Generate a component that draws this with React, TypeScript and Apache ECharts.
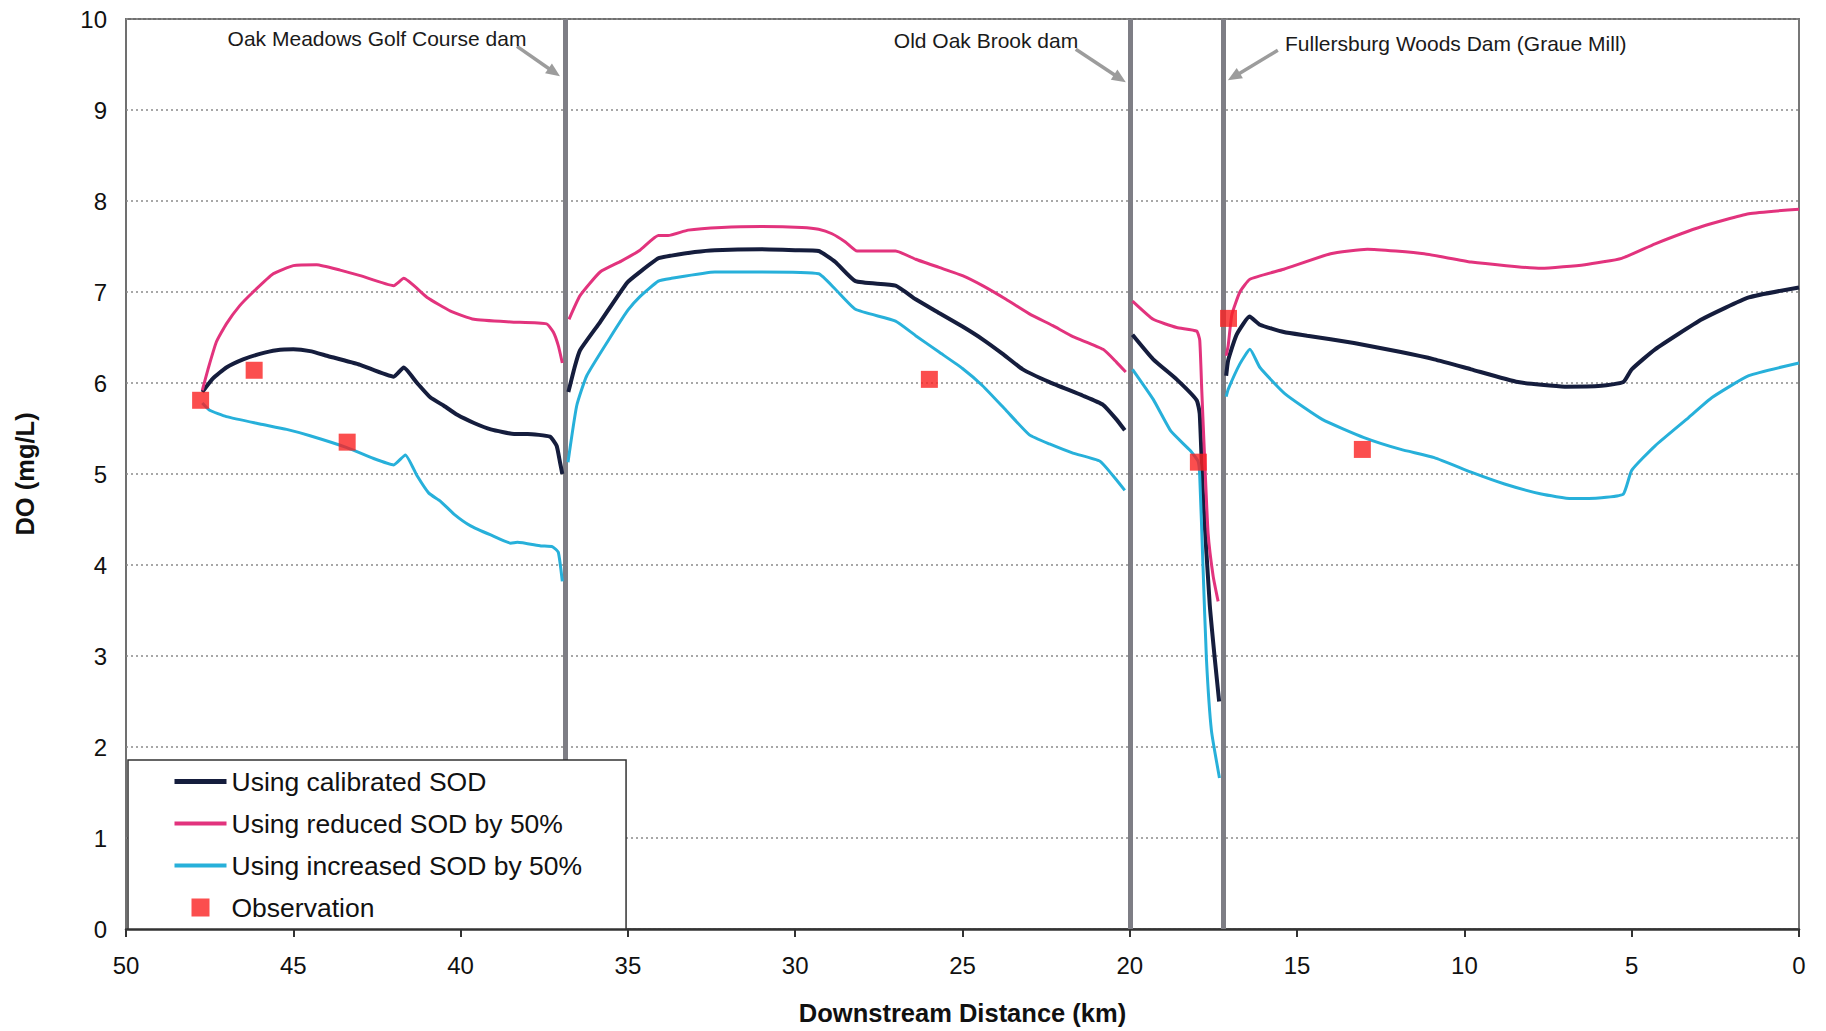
import React, { useEffect, useRef } from "react";
import * as echarts from "echarts";

// ---------- data (km downstream distance, DO mg/L) ----------
const calibratedSeg1 = [[47.72,5.9],[47.4,6.05],[47.0,6.17],[46.5,6.26],[46.0,6.32],[45.5,6.36],[45.0,6.37],[44.5,6.35],[44.0,6.3],[43.0,6.2],[42.0,6.07],[41.7,6.17],[41.3,6.0],[40.9,5.84],[40.5,5.75],[40.1,5.65],[39.6,5.56],[39.1,5.49],[38.4,5.44],[38.0,5.44],[37.33,5.41],[37.13,5.31],[37.03,5.13],[36.96,5.0]];
const calibratedSeg2 = [[36.78,5.9],[36.58,6.19],[36.43,6.36],[35.83,6.67],[35.03,7.1],[34.64,7.22],[34.09,7.37],[33.7,7.4],[33.0,7.44],[32.4,7.46],[31.0,7.47],[30.0,7.46],[29.3,7.45],[28.8,7.33],[28.2,7.12],[27.0,7.07],[26.4,6.92],[25.7,6.77],[25.0,6.62],[24.4,6.48],[23.8,6.32],[23.2,6.15],[22.4,6.01],[21.4,5.86],[20.8,5.76],[20.4,5.6],[20.15,5.48]];
const calibratedSeg3 = [[19.92,6.53],[19.3,6.26],[18.6,6.04],[18.0,5.81],[17.91,5.66],[17.81,4.75],[17.61,3.56],[17.46,2.97],[17.33,2.5]];
const calibratedSeg4 = [[17.12,6.08],[17.06,6.25],[16.81,6.53],[16.42,6.73],[16.11,6.64],[15.4,6.56],[14.7,6.52],[13.3,6.44],[11.9,6.34],[10.9,6.26],[9.8,6.15],[8.4,6.01],[7.0,5.96],[5.9,5.97],[5.25,6.01],[5.0,6.15],[4.3,6.37],[2.9,6.7],[1.5,6.94],[0,7.05]];

const reducedSeg1 = [[47.72,5.92],[47.55,6.15],[47.3,6.45],[47.0,6.65],[46.6,6.85],[46.2,7.0],[45.6,7.2],[45.0,7.29],[44.3,7.3],[43.6,7.24],[43.0,7.18],[42.0,7.07],[41.7,7.15],[41.0,6.94],[40.3,6.79],[39.6,6.7],[38.5,6.67],[37.43,6.65],[37.23,6.56],[37.08,6.41],[36.96,6.22]];
const reducedSeg2 = [[36.76,6.7],[36.43,6.96],[35.83,7.22],[35.2,7.34],[34.64,7.46],[34.09,7.62],[33.8,7.62],[33.2,7.68],[32.2,7.71],[31.0,7.72],[29.8,7.71],[29.3,7.69],[28.9,7.64],[28.5,7.55],[28.15,7.45],[27.0,7.45],[26.4,7.36],[25.7,7.27],[25.0,7.18],[24.4,7.07],[23.7,6.92],[23.0,6.76],[22.3,6.63],[21.7,6.51],[20.8,6.37],[20.4,6.23],[20.12,6.12]];
const reducedSeg3 = [[19.92,6.9],[19.3,6.7],[18.6,6.61],[18.0,6.57],[17.91,6.47],[17.85,5.93],[17.76,5.14],[17.66,4.35],[17.51,3.88],[17.36,3.6]];
const reducedSeg4 = [[17.12,6.3],[17.06,6.41],[16.95,6.75],[16.71,7.0],[16.41,7.14],[15.4,7.25],[14.0,7.42],[12.9,7.47],[11.2,7.42],[9.8,7.33],[7.7,7.26],[6.4,7.3],[5.3,7.37],[4.3,7.53],[2.9,7.72],[1.5,7.86],[0,7.91]];

const increasedSeg1 = [[47.72,5.78],[47.5,5.7],[47.0,5.63],[46.0,5.55],[45.2,5.49],[44.5,5.42],[43.4,5.29],[42.6,5.17],[42.0,5.1],[41.65,5.21],[41.3,4.98],[40.95,4.79],[40.6,4.7],[40.2,4.56],[39.7,4.43],[39.1,4.33],[38.5,4.24],[38.3,4.25],[37.6,4.21],[37.25,4.2],[37.08,4.14],[36.96,3.82]];
const increasedSeg2 = [[36.79,5.13],[36.53,5.75],[36.23,6.08],[35.53,6.5],[35.0,6.8],[34.64,6.95],[34.09,7.12],[33.7,7.15],[32.4,7.22],[31.0,7.22],[29.3,7.2],[28.8,7.03],[28.2,6.81],[27.0,6.68],[26.4,6.52],[25.7,6.34],[25.0,6.16],[24.4,5.97],[23.7,5.7],[23.0,5.43],[22.4,5.33],[21.7,5.23],[20.89,5.14],[20.5,4.98],[20.15,4.82]];
const increasedSeg3 = [[19.92,6.15],[19.3,5.82],[18.77,5.47],[18.2,5.26],[17.96,5.14],[17.91,4.98],[17.81,3.96],[17.71,2.97],[17.56,2.18],[17.32,1.66]];
const increasedSeg4 = [[17.12,5.85],[17.06,5.93],[16.71,6.21],[16.41,6.37],[16.11,6.17],[15.36,5.88],[14.25,5.6],[13.0,5.4],[11.9,5.27],[10.9,5.18],[9.8,5.02],[8.8,4.89],[7.7,4.78],[6.8,4.73],[5.9,4.74],[5.25,4.78],[5.0,5.04],[4.3,5.31],[3.3,5.62],[2.6,5.84],[1.5,6.08],[0,6.22]];

const observations = [[47.77,5.81],[46.17,6.14],[43.39,5.35],[25.99,6.04],[17.95,5.13],[17.05,6.71],[13.05,5.27]];

const damKm = [36.88, 20.0, 17.22];
const damNames = ["Oak Meadows Golf Course dam", "Old Oak Brook dam", "Fullersburg Woods Dam (Graue Mill)"];

const xTicks = [0, 5, 10, 15, 20, 25, 30, 35, 40, 45, 50];
const yTicks = [0, 1, 2, 3, 4, 5, 6, 7, 8, 9, 10];

const NAVY = "#151d3d";
const PINK = "#e2337d";
const CYAN = "#27b0da";
const RED = "#fa2222";
const FONT = "'Liberation Sans', Arial, sans-serif";

const scenarios = [
  { name: "Using calibrated SOD", segs: [calibratedSeg1, calibratedSeg2, calibratedSeg3, calibratedSeg4], color: NAVY, width: 4 },
  { name: "Using reduced SOD by 50%", segs: [reducedSeg1, reducedSeg2, reducedSeg3, reducedSeg4], color: PINK, width: 3 },
  { name: "Using increased SOD by 50%", segs: [increasedSeg1, increasedSeg2, increasedSeg3, increasedSeg4], color: CYAN, width: 3 },
];

export default function App() {
  const ref = useRef<HTMLDivElement>(null);

  useEffect(() => {
    if (!ref.current) return;
    const chart = echarts.init(ref.current, null, { renderer: "svg" });

    const lineSeries: any[] = [];
    scenarios.forEach((s, si) => {
      s.segs.forEach((seg, i) => {
        const ser: any = {
          type: "line",
          name: s.name,
          data: seg,
          symbol: "none",
          showSymbol: false,
          smooth: 0.15,
          lineStyle: { color: s.color, width: s.width },
          itemStyle: { color: s.color },
          z: 3,
          silent: true,
        };
        if (si === 0 && i === 0) {
          ser.markLine = {
            silent: true,
            symbol: ["none", "none"],
            label: { show: false },
            lineStyle: { color: "#7e7e85", width: 5, type: "solid" },
            data: damKm.map((k) => ({ xAxis: k })),
            z: 2,
          };
        }
        lineSeries.push(ser);
      });
    });

    const hiddenDot = { color: "rgba(0,0,0,0)", borderWidth: 0, borderColor: "rgba(0,0,0,0)" };

    const option: any = {
      animation: false,
      backgroundColor: "#ffffff",
      grid: {
        left: 126,
        right: 27,
        top: 19,
        bottom: 102,
        show: true,
        borderColor: "#707070",
        borderWidth: 2,
        backgroundColor: "transparent",
      },
      xAxis: {
        type: "value",
        min: xTicks[0],
        max: xTicks[xTicks.length - 1],
        interval: 5,
        inverse: true,
        name: "Downstream Distance (km)",
        nameLocation: "middle",
        nameGap: 71,
        nameTextStyle: { fontFamily: FONT, fontSize: 25.5, fontWeight: "bold", color: "#111" },
        axisLine: { show: true, lineStyle: { color: "#333", width: 2.5 } },
        axisTick: { show: true, length: 8, lineStyle: { color: "#333", width: 2 } },
        axisLabel: { fontFamily: FONT, fontSize: 24, color: "#111", margin: 24 },
        splitLine: { show: false },
      },
      yAxis: {
        type: "value",
        min: yTicks[0],
        max: yTicks[yTicks.length - 1],
        interval: 1,
        name: "DO (mg/L)",
        nameLocation: "middle",
        nameGap: 88,
        nameRotate: 90,
        nameTextStyle: { fontFamily: FONT, fontSize: 25.5, fontWeight: "bold", color: "#111" },
        axisLine: { show: true, lineStyle: { color: "#777", width: 2 } },
        axisTick: { show: false },
        axisLabel: { fontFamily: FONT, fontSize: 24, color: "#111", margin: 19 },
        splitLine: { show: true, lineStyle: { color: "#8a8a8a", width: 1.5, type: [2, 3] } },
      },
      legend: {
        show: true,
        orient: "vertical",
        left: 128,
        top: 760,
        padding: [8, 44, 8, 44],
        itemWidth: 52,
        itemHeight: 18,
        itemGap: 15,
        selectedMode: false,
        backgroundColor: "#ffffff",
        borderColor: "#333",
        borderWidth: 1.5,
        borderRadius: 0,
        textStyle: { fontFamily: FONT, fontSize: 26.5, lineHeight: 27, color: "#111" },
        data: [
          { name: scenarios[0].name, itemStyle: hiddenDot, lineStyle: { width: 5 } },
          { name: scenarios[1].name, itemStyle: hiddenDot, lineStyle: { width: 4 } },
          { name: scenarios[2].name, itemStyle: hiddenDot, lineStyle: { width: 4 } },
          { name: "Observation", icon: "path://M0 0H10V10H0Z" },
        ],
      },
      series: [
        ...lineSeries,
        {
          type: "scatter",
          name: "Observation",
          data: observations,
          symbol: "rect",
          symbolSize: 17,
          itemStyle: { color: RED },
          z: 5,
          silent: true,
        },
      ],
    };

    chart.setOption(option);

    // annotations with arrows pointing to the dams
    const tipY = 9.37;
    const tips = damKm.map((k) => chart.convertToPixel({ gridIndex: 0 }, [k, tipY]) as number[]);
    const tipPts = [
      [tips[0][0] - 5, tips[0][1]],
      [tips[1][0] - 4, tips[1][1] + 6],
      [tips[2][0] + 5, tips[2][1] + 4],
    ];
    const startPts = [
      [tipPts[0][0] - 43, tipPts[0][1] - 30],
      [tipPts[1][0] - 50, tipPts[1][1] - 33],
      [tipPts[2][0] + 50, tipPts[2][1] - 30],
    ];
    const ARROW = "#9c9c9c";
    const graphics: any[] = [];
    tipPts.forEach((t, i) => {
      const s = startPts[i];
      const dx = t[0] - s[0];
      const dy = t[1] - s[1];
      const len = Math.sqrt(dx * dx + dy * dy);
      const ux = dx / len;
      const uy = dy / len;
      const L = 14;
      const W = 6;
      const bx = t[0] - ux * L;
      const by = t[1] - uy * L;
      graphics.push({
        type: "line",
        shape: { x1: s[0], y1: s[1], x2: bx + ux * 2, y2: by + uy * 2 },
        style: { stroke: ARROW, lineWidth: 3.5 },
        z: 10,
      });
      graphics.push({
        type: "polygon",
        shape: {
          points: [
            [t[0], t[1]],
            [bx - uy * W, by + ux * W],
            [bx + uy * W, by - ux * W],
          ],
        },
        style: { fill: ARROW },
        z: 10,
      });
    });
    const labelPos = [
      { x: 377, y: 38, align: "center" },
      { x: 986, y: 40, align: "center" },
      { x: 1285, y: 43, align: "left" },
    ];
    labelPos.forEach((p, i) => {
      graphics.push({
        type: "text",
        x: p.x,
        y: p.y,
        z: 10,
        style: {
          text: damNames[i],
          fontFamily: FONT,
          fontSize: 21,
          fill: "#1a1a1a",
          align: p.align,
          textAlign: p.align,
          verticalAlign: "middle",
          textVerticalAlign: "middle",
        },
      });
    });
    chart.setOption({ graphic: graphics });

    return () => {
      chart.dispose();
    };
  }, []);

  return (
    <div
      ref={ref}
      style={{ position: "fixed", left: 0, top: 0, width: 1826, height: 1031, background: "#fff" }}
    />
  );
}
